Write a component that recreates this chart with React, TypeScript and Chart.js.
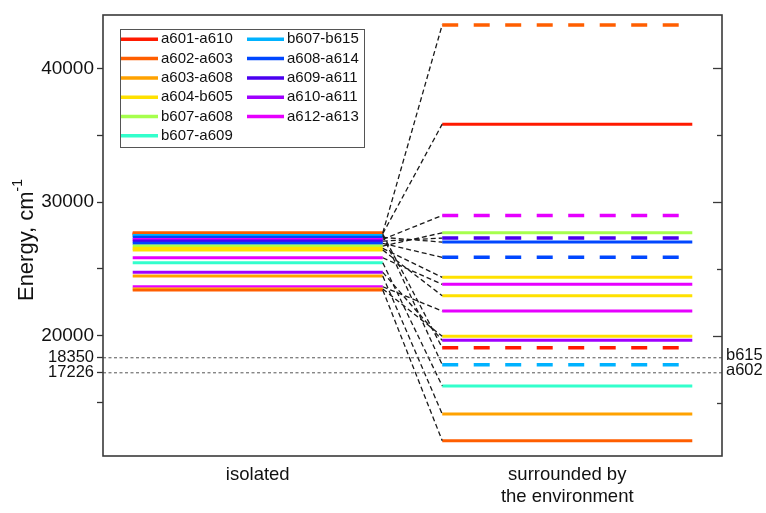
import React, { useEffect, useRef } from "react";
import { Chart, registerables } from "chart.js";

Chart.register(...registerables);

// Legend entries (pigment pairs) and their colours
const pairLabels = [
  "a601-a610", "a602-a603", "a603-a608", "a604-b605", "b607-a608", "b607-a609",
  "b607-b615", "a608-a614", "a609-a611", "a610-a611", "a612-a613",
];
const pairColors = [
  "#FF1A00", "#FF5E00", "#FFA200", "#FFE100", "#A6FF4D", "#33FFCC",
  "#00B2FF", "#0047FF", "#4A00F0", "#A000FF", "#E600FF",
];

// Each energy level: which pair, energy isolated, energy in environment, dashed on the right
const levelPair = [1, 0, 0, 6, 7, 10, 8, 7, 4, 3, 3, 10, 5, 9, 2, 10, 3, 1];
const isolatedEnergy = [
  27700, 27640, 27600, 27509, 27360, 27210, 27083, 26911, 26709, 26537, 26410,
  25834, 25460, 24742, 24465, 23665, 23500, 23420,
];
const environmentEnergy = [
  43261, 35834, 19102, 17831, 27008, 29005, 27307, 25864, 27704, 24368, 22992,
  23845, 16238, 19656, 14144, 21847, 19955, 12147,
];
const environmentDashed = [
  true, false, true, true, false, true, true, true, false, false, false,
  false, false, false, false, false, false, false,
];

// Reference lines
const referenceValues = [18350, 17226];
const referenceLabels = ["b615", "a602"];

// Axis ticks
const yMajorTicks = [20000, 30000, 40000];
const yMinorTicks = [15000, 25000, 35000];
const categoryTicks = [2.5, 7.5];
const categoryLabels: (string | string[])[] = ["isolated", ["surrounded by", "the environment"]];

const FONT = '"Liberation Sans", Arial, Helvetica, sans-serif';

const decorPlugin = {
  id: "decor",
  afterDraw(chart: any) {
    const { ctx, chartArea: a, scales } = chart;
    const y = scales.y;
    ctx.save();
    // frame
    ctx.strokeStyle = "#3a3a3a";
    ctx.lineWidth = 1.6;
    ctx.setLineDash([]);
    ctx.strokeRect(a.left, a.top, a.right - a.left, a.bottom - a.top);
    // right inward ticks
    ctx.lineWidth = 1.3;
    yMajorTicks.forEach((v) => {
      const py = Math.round(y.getPixelForValue(v)) + 0.5;
      ctx.beginPath();
      ctx.moveTo(a.right - 9, py);
      ctx.lineTo(a.right, py);
      ctx.stroke();
    });
    yMinorTicks.forEach((v) => {
      const py = Math.round(y.getPixelForValue(v)) + 0.5;
      ctx.beginPath();
      ctx.moveTo(a.right - 5, py);
      ctx.lineTo(a.right, py);
      ctx.stroke();
    });
    // reference labels
    ctx.fillStyle = "#111";
    ctx.font = `16.5px ${FONT}`;
    ctx.textAlign = "left";
    ctx.textBaseline = "middle";
    referenceValues.forEach((v, i) => {
      ctx.fillText(referenceLabels[i], a.right + 4, y.getPixelForValue(v) - 2);
    });
    // y title with superscript
    ctx.save();
    ctx.translate(19, 232);
    ctx.rotate(-Math.PI / 2);
    const main = "Energy, cm";
    ctx.font = `22px ${FONT}`;
    const w1 = ctx.measureText(main).width;
    ctx.font = `14px ${FONT}`;
    const w2 = ctx.measureText("-1").width;
    const x0 = -(w1 + w2) / 2;
    ctx.textAlign = "left";
    ctx.textBaseline = "middle";
    ctx.font = `22px ${FONT}`;
    ctx.fillText(main, x0, 0);
    ctx.font = `14px ${FONT}`;
    ctx.fillText("-1", x0 + w1, -9);
    ctx.restore();
    // legend
    const lx = 112, ly = 21, lw = 244, lh = 118;
    ctx.fillStyle = "#fff";
    ctx.fillRect(lx, ly, lw, lh);
    ctx.strokeStyle = "#555";
    ctx.lineWidth = 1;
    ctx.strokeRect(lx + 0.5, ly + 0.5, lw, lh);
    ctx.font = `15px ${FONT}`;
    ctx.textBaseline = "middle";
    pairLabels.forEach((lab, i) => {
      const col = i < 6 ? 0 : 1;
      const row = i < 6 ? i : i - 6;
      const sx = col === 0 ? 113 : 239;
      const sy = 31.3 + row * 19.3;
      ctx.strokeStyle = pairColors[i];
      ctx.lineWidth = 3.5;
      ctx.beginPath();
      ctx.moveTo(sx, sy);
      ctx.lineTo(sx + 37, sy);
      ctx.stroke();
      ctx.fillStyle = "#111";
      ctx.fillText(lab, sx + 40, sy);
    });
    ctx.restore();
  },
};

export default function App() {
  const ref = useRef<HTMLCanvasElement | null>(null);

  useEffect(() => {
    if (!ref.current) return;
    const LX0 = 0.48, LX1 = 4.52, RX0 = 5.48, RX1 = 9.52;
    const n = isolatedEnergy.length;
    const datasets: any[] = [];
    for (let i = 0; i < n; i++) {
      const col = pairColors[levelPair[i]];
      const ord = i === 0 ? 97.5 : 100 - i;
      datasets.push({
        label: pairLabels[levelPair[i]] + " isolated",
        data: [{ x: LX0, y: isolatedEnergy[i] }, { x: LX1, y: isolatedEnergy[i] }],
        borderColor: col,
        borderWidth: 3,
        order: ord,
      });
      datasets.push({
        label: pairLabels[levelPair[i]] + " environment",
        data: [{ x: RX0, y: environmentEnergy[i] }, { x: RX1, y: environmentEnergy[i] }],
        borderColor: col,
        borderWidth: environmentDashed[i] ? 3.5 : 3,
        borderDash: environmentDashed[i] ? [16, 15.5] : [],
        order: ord,
      });
      datasets.push({
        label: "link",
        data: [{ x: LX1, y: isolatedEnergy[i] }, { x: RX0, y: environmentEnergy[i] }],
        borderColor: "#1a1a1a",
        borderWidth: 1.3,
        borderDash: [5, 3],
        order: 1,
      });
    }
    referenceValues.forEach((v) => {
      datasets.push({
        label: "ref",
        data: [{ x: 0, y: v }, { x: 10, y: v }],
        borderColor: "#555",
        borderWidth: 1,
        borderDash: [3, 2.5],
        order: 0,
      });
    });

    const chart = new Chart(ref.current, {
      type: "scatter",
      data: { datasets },
      plugins: [decorPlugin],
      options: {
        animation: false,
        responsive: false,
        events: [],
        layout: { padding: { left: 0, right: 44, top: 7, bottom: 0 } },
        elements: {
          point: { radius: 0, hoverRadius: 0 },
          line: { tension: 0, borderCapStyle: "butt" },
        },
        datasets: { scatter: { showLine: true } } as any,
        plugins: { legend: { display: false }, tooltip: { enabled: false } },
        scales: {
          x: {
            type: "linear",
            min: 0,
            max: 10,
            grid: { display: false, drawTicks: false },
            border: { display: false },
            afterFit: (s: any) => {
              s.height = 49;
              s.paddingLeft = 0;
              s.paddingRight = 0;
            },
            afterBuildTicks: (s: any) => { s.ticks = categoryTicks.map((v) => ({ value: v })); },
            ticks: {
              autoSkip: false,
              maxRotation: 0,
              padding: 8,
              color: "#111",
              font: { family: FONT, size: 18.5, lineHeight: 1.2 },
              callback: (v: any) => {
                const idx = categoryTicks.indexOf(Number(v));
                return idx >= 0 ? categoryLabels[idx] : "";
              },
            },
          },
          y: {
            type: "linear",
            min: 11000,
            max: 44000,
            grid: {
              drawOnChartArea: false,
              drawTicks: true,
              tickLength: 6,
              tickColor: "#333",
              tickWidth: 1.3,
            },
            border: { display: false },
            afterFit: (s: any) => {
              s.width = 95;
              s.paddingTop = 0;
              s.paddingBottom = 0;
            },
            afterBuildTicks: (s: any) => {
              const vals = [...yMinorTicks, ...referenceValues, ...yMajorTicks].sort((p, q) => p - q);
              s.ticks = vals.map((v) => ({ value: v }));
            },
            ticks: {
              autoSkip: false,
              padding: 3,
              color: "#111",
              font: (c: any) => {
                const v = c.tick ? c.tick.value : 0;
                return { family: FONT, size: referenceValues.includes(v) ? 16.5 : 19 };
              },
              callback: (v: any) => {
                const num = Number(v);
                if (yMajorTicks.includes(num) || referenceValues.includes(num)) return String(num);
                return "";
              },
            },
          },
        },
      },
    });
    return () => chart.destroy();
  }, []);

  return (
    <div style={{ width: 750, height: 497 }}>
      <canvas
        ref={ref}
        width={758}
        height={497}
        style={{ position: "fixed", left: 8, top: 8, display: "block", width: 758, height: 497 }}
      />
    </div>
  );
}
